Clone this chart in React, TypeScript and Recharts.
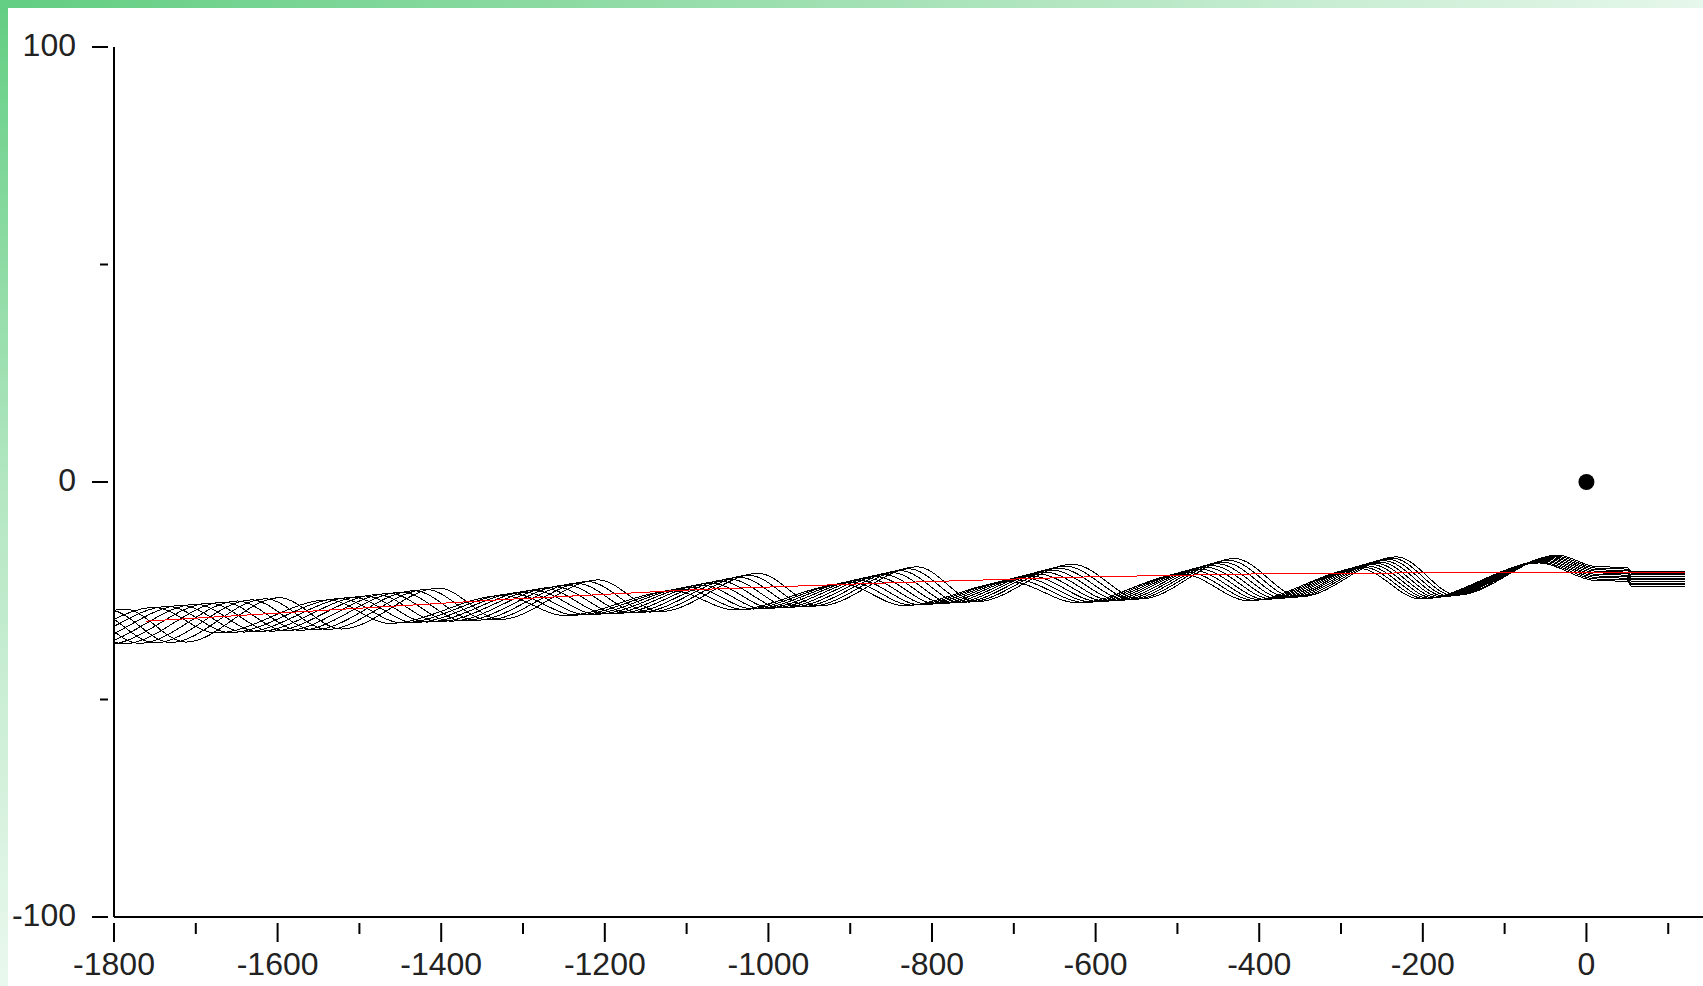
import React from 'react';
import { ComposedChart, Line, Scatter, XAxis, YAxis } from 'recharts';

// 10 overlapping cycle curves, [x, y] keypoints (first points lie left of -1800 and get clipped)
const wave0 = [[-1980,-32],[-1905,-38.5],[-1787,-29.2],[-1712,-36.8],[-1598,-26.6],[-1522,-33.8],[-1403,-24.4],[-1328,-31.6],[-1208,-22.5],[-1132,-29.8],[-1012,-21.0],[-938,-28.5],[-818,-19.5],[-745,-27.5],[-628,-18.9],[-545,-26.9],[-430,-17.6],[-350,-26.4],[-232,-17.2],[-158,-26.0],[-35,-16.8],[10,-19.4],[50,-19.7],[55,-20.6],[120,-20.6]];
const wave1 = [[-2001,-32.2],[-1926,-38.6],[-1806,-29.4],[-1731,-36.9],[-1615,-26.85],[-1539,-33.9],[-1418,-24.7],[-1343,-31.7],[-1221,-22.9],[-1145,-29.9],[-1023.5,-21.45],[-949.5,-28.6],[-828,-19.95],[-755,-27.6],[-636.5,-19.35],[-553.5,-27.0],[-437,-18.0],[-357,-26.5],[-237,-17.5],[-163,-26.1],[-37.5,-17.0],[10,-19.76],[50,-20.05],[55,-20.98],[120,-20.98]];
const wave2 = [[-2022,-32.4],[-1947,-38.7],[-1825,-29.6],[-1750,-37.0],[-1632,-27.1],[-1556,-34.0],[-1433,-25.0],[-1358,-31.8],[-1234,-23.3],[-1158,-30.0],[-1035,-21.9],[-961,-28.7],[-838,-20.4],[-765,-27.7],[-645,-19.8],[-562,-27.1],[-444,-18.4],[-364,-26.6],[-242,-17.8],[-168,-26.2],[-40,-17.2],[10,-20.12],[50,-20.4],[55,-21.36],[120,-21.36]];
const wave3 = [[-2043,-32.6],[-1968,-38.8],[-1844,-29.8],[-1769,-37.1],[-1649,-27.35],[-1573,-34.1],[-1448,-25.3],[-1373,-31.9],[-1247,-23.7],[-1171,-30.1],[-1046.5,-22.35],[-972.5,-28.8],[-848,-20.85],[-775,-27.8],[-653.5,-20.25],[-570.5,-27.2],[-451,-18.8],[-371,-26.7],[-247,-18.1],[-173,-26.3],[-42.5,-17.4],[10,-20.48],[50,-20.75],[55,-21.74],[120,-21.74]];
const wave4 = [[-2064,-32.8],[-1989,-38.9],[-1863,-30.0],[-1788,-37.2],[-1666,-27.6],[-1590,-34.2],[-1463,-25.6],[-1388,-32.0],[-1260,-24.1],[-1184,-30.2],[-1058,-22.8],[-984,-28.9],[-858,-21.3],[-785,-27.9],[-662,-20.7],[-579,-27.3],[-458,-19.2],[-378,-26.8],[-252,-18.4],[-178,-26.4],[-45,-17.6],[10,-20.84],[50,-21.1],[55,-22.12],[120,-22.12]];
const wave5 = [[-2085,-33.0],[-2010,-39.0],[-1882,-30.2],[-1807,-37.3],[-1683,-27.85],[-1607,-34.3],[-1478,-25.9],[-1403,-32.1],[-1273,-24.5],[-1197,-30.3],[-1069.5,-23.25],[-995.5,-29.0],[-868,-21.75],[-795,-28.0],[-670.5,-21.15],[-587.5,-27.4],[-465,-19.6],[-385,-26.9],[-257,-18.7],[-183,-26.5],[-47.5,-17.8],[10,-21.2],[50,-21.45],[55,-22.5],[120,-22.5]];
const wave6 = [[-2106,-33.2],[-2031,-39.1],[-1901,-30.4],[-1826,-37.4],[-1700,-28.1],[-1624,-34.4],[-1493,-26.2],[-1418,-32.2],[-1286,-24.9],[-1210,-30.4],[-1081,-23.7],[-1007,-29.1],[-878,-22.2],[-805,-28.1],[-679,-21.6],[-596,-27.5],[-472,-20.0],[-392,-27.0],[-262,-19.0],[-188,-26.6],[-50,-18.0],[10,-21.56],[50,-21.8],[55,-22.88],[120,-22.88]];
const wave7 = [[-2127,-33.4],[-2052,-39.2],[-1920,-30.6],[-1845,-37.5],[-1717,-28.35],[-1641,-34.5],[-1508,-26.5],[-1433,-32.3],[-1299,-25.3],[-1223,-30.5],[-1092.5,-24.15],[-1018.5,-29.2],[-888,-22.65],[-815,-28.2],[-687.5,-22.05],[-604.5,-27.6],[-479,-20.4],[-399,-27.1],[-267,-19.3],[-193,-26.7],[-52.5,-18.2],[10,-21.92],[50,-22.15],[55,-23.26],[120,-23.26]];
const wave8 = [[-2148,-33.6],[-2073,-39.3],[-1939,-30.8],[-1864,-37.6],[-1734,-28.6],[-1658,-34.6],[-1523,-26.8],[-1448,-32.4],[-1312,-25.7],[-1236,-30.6],[-1104,-24.6],[-1030,-29.3],[-898,-23.1],[-825,-28.3],[-696,-22.5],[-613,-27.7],[-486,-20.8],[-406,-27.2],[-272,-19.6],[-198,-26.8],[-55,-18.4],[10,-22.28],[50,-22.5],[55,-23.64],[120,-23.64]];
const wave9 = [[-2169,-33.8],[-2094,-39.4],[-1958,-31.0],[-1883,-37.7],[-1751,-28.85],[-1675,-34.7],[-1538,-27.1],[-1463,-32.5],[-1325,-26.1],[-1249,-30.7],[-1115.5,-25.05],[-1041.5,-29.4],[-908,-23.55],[-835,-28.4],[-704.5,-22.95],[-621.5,-27.8],[-493,-21.2],[-413,-27.3],[-277,-19.9],[-203,-26.9],[-57.5,-18.6],[10,-22.64],[50,-22.85],[55,-24.02],[120,-24.02]];

// red trend line
const trendX = [-1761, -1561, -1321, -1084, -840, -607, -363, 120];
const trendY = [-32.0, -29.7, -27.0, -24.7, -23.1, -21.8, -21.0, -20.7];

// single marker
const markerX = [0];
const markerY = [0];

const xTicks = [-1800, -1700, -1600, -1500, -1400, -1300, -1200, -1100, -1000, -900, -800, -700, -600, -500, -400, -300, -200, -100, 0, 100];
const yTicks = [-100, -50, 0, 50, 100];

const waves = [wave0, wave1, wave2, wave3, wave4, wave5, wave6, wave7, wave8, wave9].map(w =>
  w.map(([x, y]) => ({ x, y }))
);
const trend = trendX.map((x, i) => ({ x, y: trendY[i] }));
const marker = markerX.map((x, i) => ({ x, y: markerY[i] }));

const FONT = '"Liberation Sans", Arial, sans-serif';

function XTick(props: any) {
  const { x, y, payload } = props;
  const major = payload.value % 200 === 0;
  return (
    <g>
      <line x1={x} y1={y} x2={x} y2={y + (major ? 19 : 11)} stroke="#000" strokeWidth={2} />
      {major && (
        <text x={x} y={y + 52} textAnchor="middle" fontSize={32} fontFamily={FONT} fill="#222">
          {payload.value}
        </text>
      )}
    </g>
  );
}

function YTick(props: any) {
  const { x, y, payload } = props;
  const major = payload.value % 100 === 0;
  return (
    <g>
      <line x1={x - (major ? 16 : 8)} y1={y} x2={x} y2={y} stroke="#000" strokeWidth={2} />
      {major && (
        <text x={x - 32} y={y + 9} textAnchor="end" fontSize={32} fontFamily={FONT} fill="#222">
          {payload.value}
        </text>
      )}
    </g>
  );
}

export default function App() {
  return (
    <div style={{ position: 'fixed', left: 0, top: 0, width: 1703, height: 986, background: '#fff', overflow: 'hidden' }}>
      <div style={{ position: 'absolute', left: 0, top: 0, width: 1703, height: 8, background: 'linear-gradient(to right, #62ce82, #a9e3b9 55%, #e6f7eb)' }} />
      <div style={{ position: 'absolute', left: 0, top: 0, width: 8, height: 986, background: 'linear-gradient(to bottom, #62ce82, #b4e7c2 50%, #eaf8ee)' }} />
      <div style={{ position: 'absolute', left: 0, top: 0 }}>
        <ComposedChart width={1703} height={986} margin={{ top: 47, right: 0, bottom: 9, left: 14 }}>
          <XAxis
            dataKey="x"
            type="number"
            domain={[-1800, 142.5]}
            allowDataOverflow
            ticks={xTicks}
            interval={0}
            height={60}
            stroke="#000"
            strokeWidth={2}
            tickLine={false}
            tickMargin={0}
            tick={<XTick />}
          />
          <YAxis
            dataKey="y"
            type="number"
            domain={[-100, 100]}
            allowDataOverflow
            ticks={yTicks}
            interval={0}
            width={100}
            stroke="#000"
            strokeWidth={2}
            tickLine={false}
            tickMargin={0}
            tick={<YTick />}
          />
          {waves.map((w, i) => (
            <Line
              key={i}
              data={w}
              dataKey="y"
              type="monotone"
              stroke="#000"
              strokeWidth={1}
              shapeRendering="crispEdges"
              dot={false}
              activeDot={false}
              isAnimationActive={false}
            />
          ))}
          <Line data={trend} dataKey="y" type="linear" stroke="#ff0000" strokeWidth={1} shapeRendering="crispEdges" dot={false} activeDot={false} isAnimationActive={false} />
          <Scatter
            data={marker}
            dataKey="y"
            fill="#000"
            isAnimationActive={false}
            shape={(p: any) => <circle cx={p.cx} cy={p.cy} r={8} fill="#000" />}
          />
        </ComposedChart>
      </div>
    </div>
  );
}
